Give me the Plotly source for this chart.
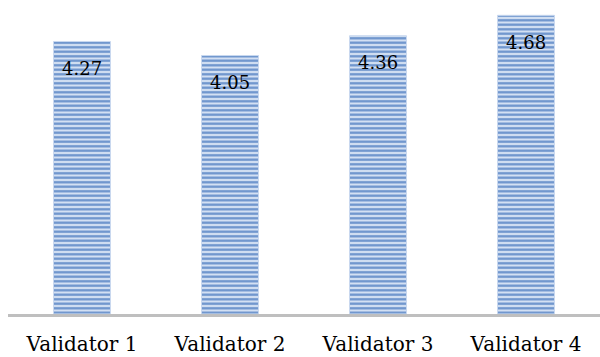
import plotly.graph_objects as go

categories = ["Validator 1", "Validator 2", "Validator 3", "Validator 4"]
scores = [4.27, 4.05, 4.36, 4.68]

SERIF = "DejaVu Serif"

fig = go.Figure()
fig.add_trace(go.Bar(
    x=categories,
    y=scores,
    marker=dict(
        color="#c8d8f0",
        line=dict(color="#c9d8ef", width=1),
        pattern=dict(shape="-", fgcolor="#6a92cb", bgcolor="#d3e0f3",
                     size=4.5, solidity=0.5, fillmode="replace"),
    ),
    hoverinfo="skip",
))

# value labels just below the top of each bar
for cat, val in zip(categories, scores):
    fig.add_annotation(
        x=cat, y=val, text=f"{val:.2f}", showarrow=False,
        yanchor="middle", yshift=-27,
        font=dict(family=SERIF, size=18, color="#000000"),
    )

fig.update_layout(
    width=600, height=357,
    margin=dict(l=8, r=0, t=0, b=43),
    paper_bgcolor="white", plot_bgcolor="white",
    bargap=0.615,
    showlegend=False,
    font=dict(family=SERIF, size=20, color="#000000"),
)
fig.update_xaxes(
    showline=True, linecolor="#bfbfbf", linewidth=3,
    ticks="", tickfont=dict(family=SERIF, size=20, color="#000000"),
    ticklabelstandoff=10,
    showgrid=False,
)
fig.update_yaxes(
    range=[0, 4.92], visible=False, showgrid=False, zeroline=False,
)

fig.write_html("out.html")
